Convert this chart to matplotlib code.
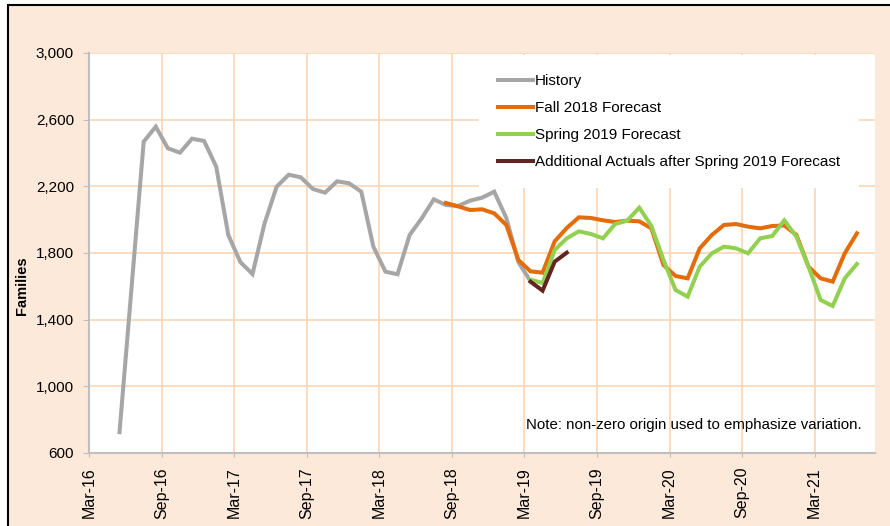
import matplotlib.pyplot as plt
import numpy as np
import pandas as pd
from matplotlib.patches import Rectangle

plt.rcParams['font.family'] = ['Liberation Sans', 'DejaVu Sans']

# monthly category axis, Mar-16 .. Jul-21
months = pd.date_range('2016-03-01', '2021-07-01', freq='MS')
tick_labels = ['Mar-16', 'Sep-16', 'Mar-17', 'Sep-17', 'Mar-18', 'Sep-18',
               'Mar-19', 'Sep-19', 'Mar-20', 'Sep-20', 'Mar-21']
y_ticks = [600, 1000, 1400, 1800, 2200, 2600, 3000]

history_start = '2016-05-01'
history = [725, np.nan, 2468, 2558, 2428, 2402, 2486, 2472,
           2318, 1908, 1745, 1674, 1978, 2198, 2270, 2254, 2184, 2162, 2230, 2218,
           2168, 1838, 1688, 1672, 1908, 2008, 2122, 2088, 2082, 2114, 2132, 2168,
           2010, 1745, 1630]

fall_2018_start = '2018-08-01'
fall_2018 = [2100, 2080, 2058, 2062, 2038,
             1968, 1758, 1690, 1682, 1870, 1950, 2014, 2010, 1996, 1986, 1994, 1990,
             1948, 1728, 1662, 1648, 1828, 1908, 1968, 1974, 1958, 1948, 1962, 1965,
             1908, 1718, 1648, 1628, 1798, 1918]

spring_2019_start = '2019-03-01'
spring_2019 = [1640, 1620, 1818, 1888, 1930, 1914, 1888, 1974, 1994, 2072,
               1962, 1758, 1578, 1538, 1718, 1798, 1838, 1828, 1798, 1888, 1902, 1996,
               1898, 1718, 1518, 1482, 1648, 1734]

actuals_start = '2019-03-01'
actuals = [1628, 1574, 1748, 1802]

peach = '#FDE9D9'
grid_col = '#FCD5B4'
axis_col = '#BFBFBF'


def series(start, values):
    idx = pd.date_range(start, periods=len(values), freq='MS')
    s = pd.Series(values, index=idx, dtype=float).dropna()
    return months.get_indexer(s.index) + 0.5, s.values


fig = plt.figure(figsize=(8.9, 5.26), dpi=100)
fig.patch.set_facecolor('white')
fig.patches.append(Rectangle((7.5 / 890, -0.1), 1.2, 1.1 - 4.7 / 526,
                             transform=fig.transFigure, facecolor=peach,
                             edgecolor='black', lw=1.5, zorder=-1))

ax = fig.add_axes([89.3 / 890, 1 - 453 / 526, (875 - 89.3) / 890, 400 / 526])
ax.set_zorder(1)
ax.set_facecolor('white')

for start, vals, col, lab in [
        (history_start, history, '#A6A6A6', 'History'),
        (fall_2018_start, fall_2018, '#E46C0A', 'Fall 2018 Forecast'),
        (spring_2019_start, spring_2019, '#92D050', 'Spring 2019 Forecast'),
        (actuals_start, actuals, '#632523', 'Additional Actuals after Spring 2019 Forecast')]:
    x, y = series(start, vals)
    ax.plot(x, y, color=col, lw=2.9, label=lab, solid_joinstyle='miter')

ax.set_xlim(0, len(months))
ax.set_ylim(600, 3000)
ax.set_xticks(np.arange(0, len(months), 6))
ax.set_xticklabels(tick_labels, rotation=90, fontsize=11.5)
ax.set_yticks(y_ticks)
ax.set_yticklabels([f'{v:,}' for v in y_ticks], fontsize=11)
ax.grid(True, color=grid_col, lw=1.2)
ax.set_axisbelow(True)
for s in ['top', 'right']:
    ax.spines[s].set_visible(False)
for s in ['left', 'bottom']:
    ax.spines[s].set_color(axis_col)
    ax.spines[s].set_linewidth(1.5)
ax.tick_params(axis='y', colors=axis_col, labelcolor='black', length=4, pad=7)
ax.tick_params(axis='x', colors=axis_col, labelcolor='black', length=3, pad=7)

fig.text(22 / 890, 1 - 286 / 526, 'Families', rotation=90, fontsize=10.5,
         fontweight='bold', ha='center', va='center')

leg = ax.legend(loc='upper left', bbox_to_anchor=(479 / 890, 1 - 55 / 526),
                bbox_transform=fig.transFigure, fontsize=11, frameon=True,
                facecolor='white', edgecolor='none', framealpha=1, fancybox=False,
                handlelength=2.3, handletextpad=0.1, labelspacing=0.85,
                borderpad=1.25, borderaxespad=0)

ax.text(0.9835, 0.07, 'Note: non-zero origin used to emphasize variation.',
        transform=ax.transAxes, ha='right', va='center', fontsize=10.8)

plt.savefig('out.png', dpi=100)
